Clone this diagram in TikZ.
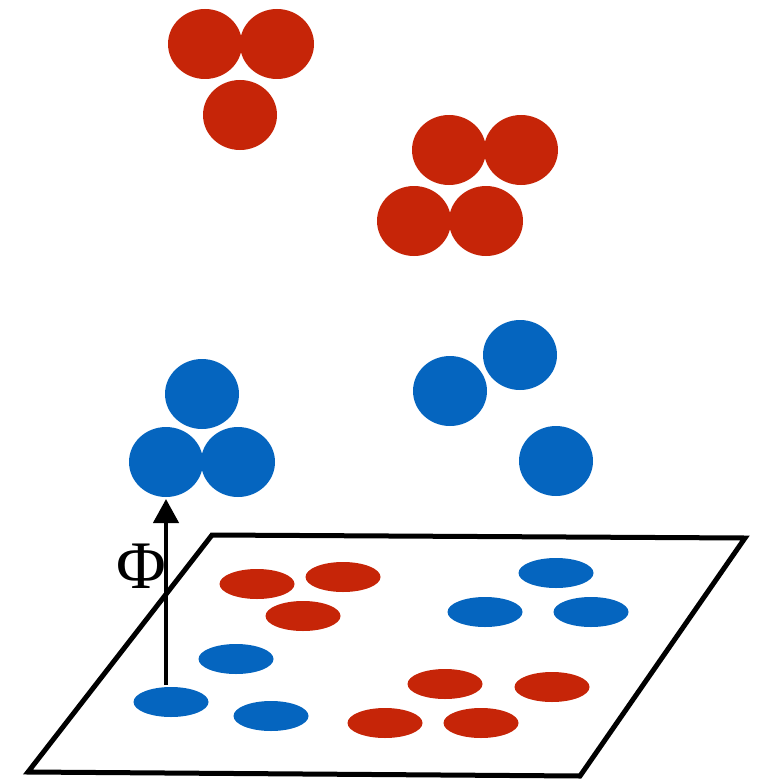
\documentclass[tikz,border=0pt]{standalone}
\usepackage{fontspec}
\newfontfamily\phifont{Liberation Serif}
\usetikzlibrary{shapes.geometric,arrows.meta}
\definecolor{ptred}{RGB}{198,37,8}
\definecolor{ptblue}{RGB}{5,101,191}
\tikzset{
  ball/.style={ellipse, inner sep=0pt, minimum width=74pt, minimum height=70pt, draw=none},
  redball/.style={ball, fill=ptred},
  blueball/.style={ball, fill=ptblue},
  flat/.style={ellipse, inner sep=0pt, minimum width=75pt, minimum height=30pt, draw=none},
  redflat/.style={flat, fill=ptred},
  blueflat/.style={flat, fill=ptblue},
  plane/.style={line width=5pt, line join=miter},
  lift/.style={line width=4.5pt, -{Triangle[length=24pt,width=25pt]}}
}
\begin{document}
\begin{tikzpicture}[x=1pt,y=-1pt]
\useasboundingbox (0,0) rectangle (758,781);

% input plane
\draw[plane] (212,535) -- (745,538) -- (580,776) -- (28,772) -- cycle;

% points in the input plane
\node[redflat] (r1) at (257,584) {};
\node[redflat] (r2) at (343,577) {};
\node[redflat] (r3) at (303,616) {};
\node[redflat] (r4) at (445,684) {};
\node[redflat] (r5) at (552,687) {};
\node[redflat] (r6) at (385,723) {};
\node[redflat] (r7) at (481,723) {};
\node[blueflat] (b1) at (556,573) {};
\node[blueflat] (b2) at (485,612) {};
\node[blueflat] (b3) at (591,612) {};
\node[blueflat] (b4) at (236,659) {};
\node[blueflat] (b5) at (171,702) {};
\node[blueflat] (b6) at (271,716) {};

% points in the feature space
\node[redball] (R1) at (205,44) {};
\node[redball] (R2) at (277,44) {};
\node[redball] (R3) at (240,115) {};
\node[redball] (R4) at (449,150) {};
\node[redball] (R5) at (521,150) {};
\node[redball] (R6) at (414,221) {};
\node[redball] (R7) at (486,221) {};
\node[blueball] (B1) at (202,394) {};
\node[blueball] (B2) at (166,462) {};
\node[blueball] (B3) at (238,462) {};
\node[blueball] (B4) at (450,391) {};
\node[blueball] (B5) at (520,355) {};
\node[blueball] (B6) at (556,461) {};

% feature map
\coordinate (liftstart) at (166,685);
\coordinate (liftend) at (166,499);
\draw[lift] (liftstart) -- (liftend);
\node[font=\phifont\fontsize{68}{68}\selectfont, inner sep=0pt] (phi) at (141,566) {Φ};
\end{tikzpicture}
\end{document}
